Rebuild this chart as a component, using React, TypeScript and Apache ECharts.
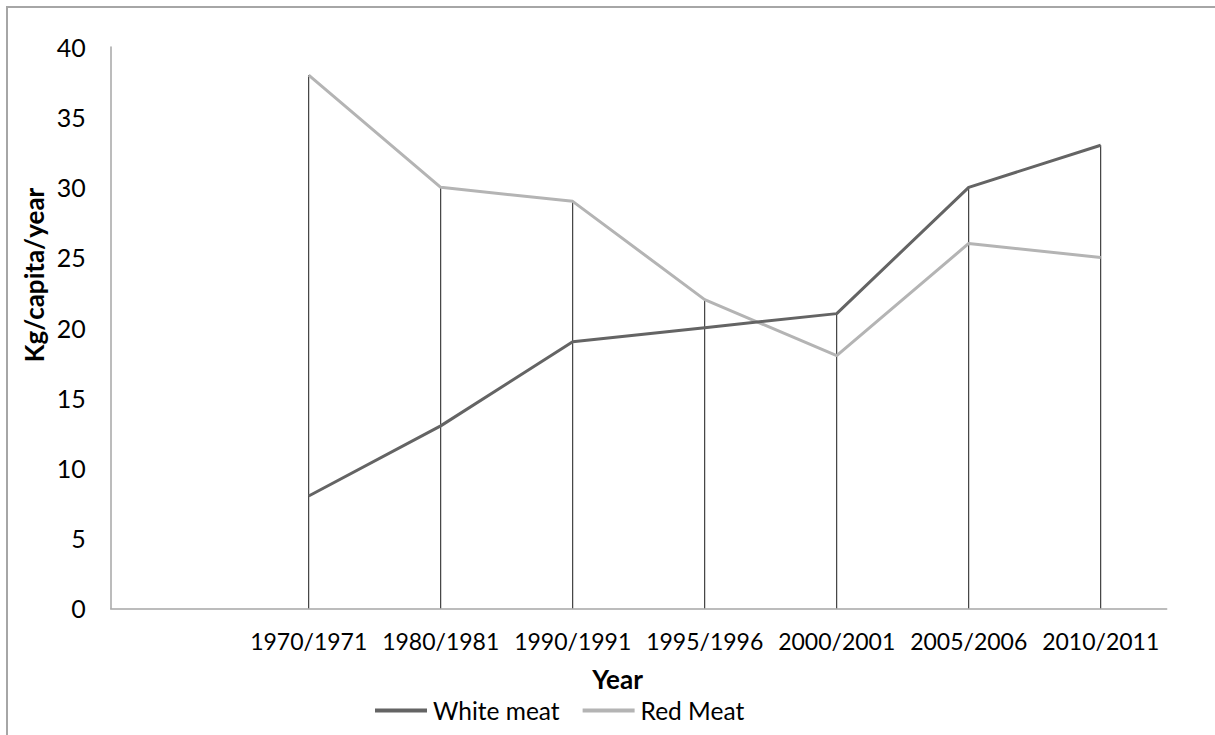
import React, { useEffect, useRef } from "react";
import * as echarts from "echarts";

const categories = ["1970/1971", "1980/1981", "1990/1991", "1995/1996", "2000/2001", "2005/2006", "2010/2011"];
const whiteMeat = [8, 13, 19, 20, 21, 30, 33];
const redMeat = [38, 30, 29, 22, 18, 26, 25];
const yTicks = { min: 0, max: 40, interval: 5 };
const seriesNames = ["White meat", "Red Meat"];
const xTitle = "Year";
const yTitle = "Kg/capita/year";

const FONT = "Lato";

export default function App() {
  const ref = useRef<HTMLDivElement>(null);
  useEffect(() => {
    if (!ref.current) return;
    const chart = echarts.init(ref.current, null, { renderer: "svg" });
    const axisData = ["", ...categories];
    const w = ["-", ...whiteMeat];
    const r = ["-", ...redMeat];
    const drop = ["-", ...whiteMeat.map((v, i) => Math.max(v, redMeat[i]))];
    chart.setOption({
      animation: false,
      backgroundColor: "#ffffff",
      textStyle: { fontFamily: FONT },
      grid: { left: 110.7, right: 48.3, top: 47, bottom: 126.7, containLabel: false },
      xAxis: {
        type: "category",
        data: axisData,
        boundaryGap: true,
        axisLine: { lineStyle: { color: "#a6a6a6", width: 1.5 } },
        axisTick: { show: false },
        axisLabel: { color: "#000", fontSize: 23, fontFamily: FONT, margin: 21, interval: 0 },
        splitLine: { show: false },
      },
      yAxis: {
        type: "value",
        min: yTicks.min,
        max: yTicks.max,
        interval: yTicks.interval,
        axisLine: { show: true, lineStyle: { color: "#a6a6a6", width: 1.5 } },
        axisTick: { show: false },
        axisLabel: { color: "#000", fontSize: 25, fontFamily: FONT, margin: 25 },
        splitLine: { show: false },
      },
      legend: {
        data: seriesNames,
        left: 375,
        top: 698,
        icon: "rect",
        itemWidth: 52,
        itemHeight: 4,
        itemGap: 23,
        textStyle: { color: "#000", fontSize: 24.5, fontFamily: FONT, padding: [0, 0, 0, 1] },
        padding: 0,
      },
      graphic: [
        {
          type: "rect",
          shape: { x: 7, y: 7, width: 1230, height: 760 },
          style: { fill: "none", stroke: "#a6a6a6", lineWidth: 2 },
          silent: true,
        },
        {
          type: "text",
          x: 33.5,
          y: 275,
          rotation: Math.PI / 2,
          style: {
            text: yTitle,
            font: `bold 26px ${FONT}`,
            fill: "#000",
            textAlign: "center",
            textVerticalAlign: "middle",
          },
        },
        {
          type: "text",
          x: 617.5,
          y: 679,
          style: {
            text: xTitle,
            font: `bold 26px ${FONT}`,
            fill: "#000",
            textAlign: "center",
            textVerticalAlign: "middle",
          },
        },
      ],
      series: [
        {
          type: "bar",
          name: "drop",
          data: drop,
          barWidth: 1,
          itemStyle: { color: "#1a1a1a" },
          silent: true,
          z: 1,
        },
        {
          type: "line",
          name: seriesNames[0],
          data: w,
          symbol: "none",
          lineStyle: { color: "#646464", width: 3 },
          itemStyle: { color: "#646464" },
          z: 3,
        },
        {
          type: "line",
          name: seriesNames[1],
          data: r,
          symbol: "none",
          lineStyle: { color: "#b4b4b4", width: 3 },
          itemStyle: { color: "#b4b4b4" },
          z: 2,
        },
      ],
    });
    return () => chart.dispose();
  }, []);
  return (
    <div
      ref={ref}
      style={{ position: "fixed", left: 0, top: 0, width: 1215, height: 735, background: "#fff" }}
    />
  );
}
